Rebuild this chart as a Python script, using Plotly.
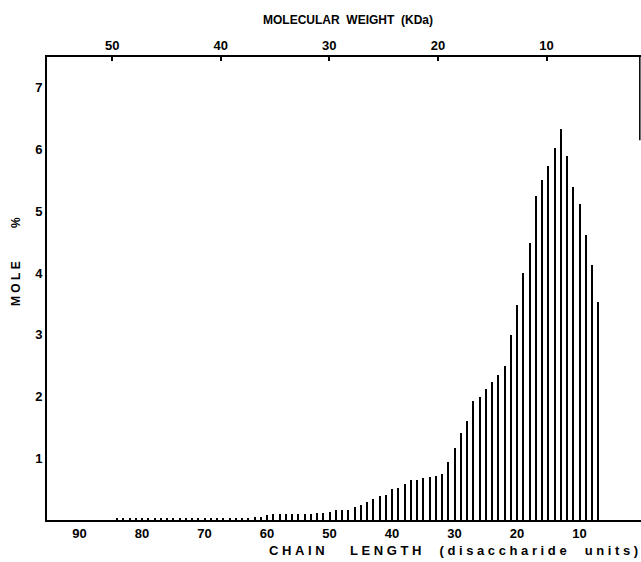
import plotly.graph_objects as go

# Chain length (disaccharide units) and mole %
chain_length = list(range(7, 85))
mole_pct = [
    3.53, 4.13, 4.62, 5.12, 5.39, 5.90, 6.34, 6.03, 5.74, 5.50,   # 7-16
    5.25, 4.48, 4.00, 3.49, 3.00, 2.50, 2.35, 2.23, 2.12, 2.00,   # 17-26
    1.92, 1.61, 1.41, 1.16, 0.94, 0.75, 0.71, 0.69, 0.68, 0.65,   # 27-36
    0.65, 0.59, 0.52, 0.50, 0.40, 0.39, 0.34, 0.29, 0.24, 0.21,   # 37-46
    0.17, 0.17, 0.16, 0.13, 0.11, 0.11, 0.10, 0.09, 0.09, 0.09,   # 47-56
    0.09, 0.09, 0.09, 0.08, 0.05, 0.05, 0.04, 0.04, 0.04, 0.04,   # 57-66
    0.04, 0.03, 0.03, 0.03, 0.03, 0.03, 0.03, 0.03, 0.03, 0.03,   # 67-76
    0.03, 0.03, 0.03, 0.03, 0.03, 0.03, 0.03, 0.03,               # 77-84
]

chain_ticks = [90, 80, 70, 60, 50, 40, 30, 20, 10]
mw_ticks = [50, 40, 30, 20, 10]
y_ticks = [1, 2, 3, 4, 5, 6, 7]

NB = "\u00a0"
def spaced(words, gaps):
    out = ""
    for i, w in enumerate(words):
        out += NB.join(list(w))
        if i < len(gaps):
            out += NB * gaps[i]
    return out

x_title = spaced(["CHAIN", "LENGTH", "(disaccharide", "units)"], [7, 5, 5])
x2_title = "MOLECULAR" + NB * 2 + "WEIGHT" + NB * 2 + "(KDa)"
y_title = spaced(["MOLE", "%"], [10])

FONT = "Liberation Sans"
W, H = 641, 562
L, R, T, B = 47, 0, 57, 42

fig = go.Figure()
fig.add_trace(go.Bar(
    x=chain_length, y=mole_pct, width=0.32,
    marker=dict(color="black", line=dict(width=0)),
    showlegend=False, hoverinfo="skip",
))
# invisible trace so the top (molecular weight) axis is drawn
fig.add_trace(go.Scatter(
    x=mw_ticks, y=[None] * len(mw_ticks), xaxis="x2", yaxis="y",
    mode="markers", showlegend=False, hoverinfo="skip",
))

tickfont = dict(size=13, weight="bold", family=FONT, color="black")
titlefont = dict(size=12, weight="bold", family=FONT, color="black")
xtitlefont = dict(size=13, weight="bold", family=FONT, color="black")

fig.update_layout(
    width=W, height=H,
    margin=dict(l=L, r=R, t=T, b=B, autoexpand=False),
    paper_bgcolor="white", plot_bgcolor="white",
    font=dict(family=FONT, color="black"),
    bargap=0,
    xaxis=dict(
        range=[95.2, 0.17], tickvals=chain_ticks, automargin=False,
        ticks="", showgrid=False, zeroline=False,
        showline=True, linecolor="black", linewidth=2,
        tickfont=tickfont,
    ),
    xaxis2=dict(
        overlaying="x", side="top", anchor="y", automargin=False,
        range=[56.0, 1.3], tickvals=mw_ticks,
        ticks="inside", ticklen=4, tickwidth=2, tickcolor="black",
        showgrid=False, zeroline=False,
        showline=True, linecolor="black", linewidth=2,
        tickfont=tickfont,
    ),
    yaxis=dict(
        range=[0, 7.5], tickvals=y_ticks, automargin=False,
        ticks="", showgrid=False, zeroline=False,
        showline=True, linecolor="black", linewidth=2,
        tickfont=tickfont,
    ),
    shapes=[dict(type="line", xref="paper", yref="paper", x0=0.998, x1=0.998,
                 y0=1, y1=0.82, line=dict(color="black", width=1.5))],
    annotations=[
        dict(text=x_title, xref="paper", yref="paper",
             x=(640 - L) / (W - L - R), y=-(550 - (H - B)) / (H - T - B),
             xanchor="right", yanchor="middle", showarrow=False, font=xtitlefont),
        dict(text=x2_title, xref="paper", yref="paper",
             x=(348 - L) / (W - L - R), y=1 + (T - 20) / (H - T - B),
             xanchor="center", yanchor="middle", showarrow=False, font=titlefont),
        dict(text=y_title, xref="paper", yref="paper", textangle=-90,
             x=-(L - 16) / (W - L - R), y=(H - B - 262) / (H - T - B),
             xanchor="center", yanchor="middle", showarrow=False, font=titlefont),
    ],
)

fig.write_html(
    "out.html",
    config={"displayModeBar": False},
    post_script="document.body.style.margin='0';document.body.style.overflow='hidden';",
)
